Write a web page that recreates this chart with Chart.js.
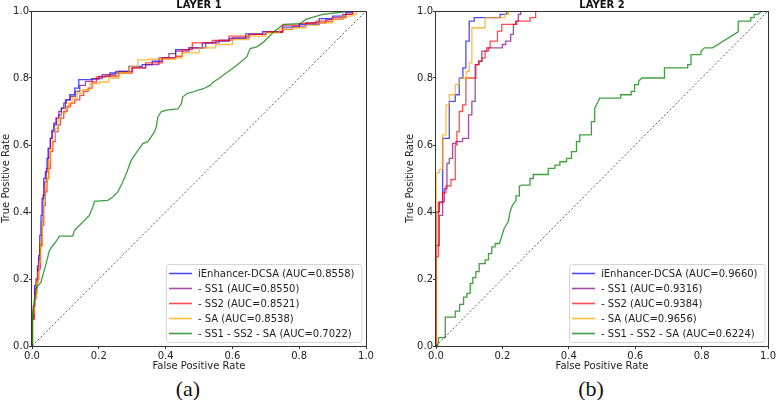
<!DOCTYPE html>
<html>
<head>
<meta charset="utf-8">
<script src="https://cdn.jsdelivr.net/npm/chart.js@4.4.1/dist/chart.umd.min.js"></script>
<style>
  body { margin: 0; background: #fff; }
  #page { position: relative; width: 777px; height: 400px; overflow: hidden; background: #fff; }
  .box { position: absolute; top: 0; height: 372px; }
  .cap { position: absolute; top: 377px; width: 50px; text-align: center; font-family: "Liberation Serif", "Times New Roman", serif; font-size: 22px; line-height: 24px; color: #111; }
</style>
</head>
<body>
<div id="page">
  <div class="box" style="left:0;width:388px"><canvas id="layer1"></canvas></div>
  <div class="box" style="left:404px;width:373px"><canvas id="layer2"></canvas></div>
  <div class="cap" style="left:163px">(a)</div>
  <div class="cap" style="left:566px">(b)</div>
</div>
<script>
// === DATI ===
const TICKS = [0, 0.2, 0.4, 0.6, 0.8, 1.0];
const LAYER1_LABELS = ["iEnhancer-DCSA (AUC=0.8558)", "- SS1 (AUC=0.8550)", "- SS2 (AUC=0.8521)", "- SA (AUC=0.8538)", "- SS1 - SS2 - SA (AUC=0.7022)"];
const LAYER2_LABELS = ["iEnhancer-DCSA (AUC=0.9660)", "- SS1 (AUC=0.9316)", "- SS2 (AUC=0.9384)", "- SA (AUC=0.9656)", "- SS1 - SS2 - SA (AUC=0.6224)"];
const DIAG_FPR = [0, 1];
const DIAG_TPR = [0, 1];

// LAYER 1
const L1_DCSA_FPR = [0, 0, 0.005, 0.008, 0.013, 0.017, 0.02, 0.023, 0.027, 0.03, 0.035, 0.04, 0.045, 0.05, 0.055, 0.06, 0.066, 0.073, 0.08, 0.088, 0.1, 0.113, 0.128, 0.14, 0.178, 0.2, 0.233, 0.26, 0.29, 0.33, 0.36, 0.39, 0.43, 0.47, 0.51, 0.55, 0.59, 0.64, 0.69, 0.75, 0.8, 0.86, 0.9, 0.94, 0.96, 1];
const L1_DCSA_TPR = [0, 0.08, 0.12, 0.18, 0.19, 0.23, 0.27, 0.33, 0.39, 0.44, 0.5, 0.52, 0.56, 0.59, 0.62, 0.64, 0.66, 0.68, 0.69, 0.71, 0.735, 0.75, 0.77, 0.795, 0.797, 0.805, 0.815, 0.82, 0.835, 0.84, 0.85, 0.86, 0.885, 0.89, 0.905, 0.91, 0.918, 0.932, 0.938, 0.952, 0.96, 0.977, 0.985, 0.995, 1.0, 1.0];
const L1_SS1_FPR = [0, 0, 0.004, 0.008, 0.012, 0.016, 0.02, 0.024, 0.028, 0.033, 0.038, 0.043, 0.048, 0.055, 0.06, 0.065, 0.072, 0.08, 0.088, 0.095, 0.103, 0.115, 0.13, 0.143, 0.16, 0.18, 0.21, 0.25, 0.3, 0.34, 0.38, 0.41, 0.43, 0.47, 0.52, 0.56, 0.6, 0.65, 0.7, 0.75, 0.78, 0.82, 0.88, 0.93, 0.96, 1];
const L1_SS1_TPR = [0, 0.1, 0.12, 0.17, 0.2, 0.24, 0.26, 0.3, 0.37, 0.45, 0.49, 0.53, 0.59, 0.62, 0.645, 0.665, 0.68, 0.7, 0.71, 0.725, 0.735, 0.745, 0.76, 0.778, 0.79, 0.798, 0.81, 0.82, 0.83, 0.84, 0.86, 0.873, 0.88, 0.89, 0.905, 0.913, 0.92, 0.93, 0.936, 0.945, 0.955, 0.965, 0.975, 0.99, 1.0, 1.0];
const L1_SS2_FPR = [0, 0, 0.007, 0.007, 0.012, 0.015, 0.02, 0.025, 0.03, 0.035, 0.04, 0.045, 0.05, 0.055, 0.062, 0.07, 0.078, 0.085, 0.095, 0.105, 0.115, 0.128, 0.143, 0.155, 0.168, 0.18, 0.193, 0.22, 0.26, 0.3, 0.34, 0.39, 0.43, 0.45, 0.48, 0.54, 0.59, 0.65, 0.7, 0.75, 0.8, 0.85, 0.9, 0.94, 0.96, 1];
const L1_SS2_TPR = [0, 0.08, 0.08, 0.14, 0.16, 0.2, 0.23, 0.3, 0.36, 0.42, 0.46, 0.5, 0.53, 0.58, 0.61, 0.64, 0.66, 0.68, 0.7, 0.715, 0.725, 0.735, 0.748, 0.76, 0.77, 0.788, 0.803, 0.806, 0.815, 0.83, 0.845, 0.86, 0.865, 0.885, 0.905, 0.912, 0.925, 0.93, 0.938, 0.958, 0.963, 0.97, 0.98, 0.99, 1.0, 1.0];
const L1_SA_FPR = [0, 0, 0.006, 0.01, 0.014, 0.018, 0.022, 0.026, 0.03, 0.035, 0.04, 0.045, 0.05, 0.056, 0.063, 0.07, 0.078, 0.088, 0.1, 0.11, 0.12, 0.135, 0.15, 0.173, 0.203, 0.23, 0.26, 0.29, 0.317, 0.35, 0.43, 0.45, 0.5, 0.55, 0.6, 0.65, 0.7, 0.74, 0.78, 0.82, 0.86, 0.9, 0.93, 0.96, 0.97, 1];
const L1_SA_TPR = [0, 0.1, 0.13, 0.15, 0.19, 0.22, 0.25, 0.31, 0.37, 0.43, 0.47, 0.5, 0.55, 0.59, 0.614, 0.65, 0.68, 0.695, 0.71, 0.725, 0.74, 0.755, 0.765, 0.783, 0.788, 0.8, 0.815, 0.835, 0.854, 0.856, 0.86, 0.875, 0.89, 0.9, 0.915, 0.925, 0.935, 0.945, 0.95, 0.958, 0.965, 0.975, 0.985, 0.99, 1.0, 1.0];
const L1_NONE_FPR = [0, 0.002, 0.002, 0.007, 0.012, 0.017, 0.027, 0.032, 0.042, 0.047, 0.052, 0.062, 0.067, 0.077, 0.082, 0.122, 0.127, 0.137, 0.147, 0.157, 0.167, 0.172, 0.182, 0.187, 0.227, 0.242, 0.257, 0.272, 0.282, 0.297, 0.317, 0.332, 0.347, 0.367, 0.372, 0.377, 0.387, 0.407, 0.437, 0.447, 0.451, 0.463, 0.513, 0.533, 0.543, 0.558, 0.593, 0.613, 0.643, 0.653, 0.673, 0.693, 0.723, 0.753, 0.803, 0.82, 0.87, 0.93, 0.95, 1];
const L1_NONE_TPR = [0, 0, 0.1, 0.13, 0.17, 0.18, 0.19, 0.21, 0.245, 0.265, 0.285, 0.3, 0.305, 0.32, 0.328, 0.328, 0.345, 0.355, 0.365, 0.375, 0.385, 0.39, 0.415, 0.432, 0.435, 0.445, 0.46, 0.49, 0.514, 0.554, 0.584, 0.604, 0.61, 0.64, 0.654, 0.684, 0.7, 0.705, 0.708, 0.723, 0.743, 0.753, 0.768, 0.778, 0.788, 0.798, 0.823, 0.838, 0.863, 0.888, 0.893, 0.907, 0.937, 0.96, 0.962, 0.975, 0.99, 0.997, 1.0, 1.0];

// LAYER 2
const L2_DCSA_FPR = [0, 0, 0.01, 0.01, 0.02, 0.02, 0.04, 0.04, 0.058, 0.058, 0.07, 0.07, 0.081, 0.081, 0.09, 0.09, 0.1, 0.1, 0.115, 0.115, 0.193, 0.193, 0.213, 0.213, 1];
const L2_DCSA_TPR = [0, 0.40, 0.40, 0.43, 0.43, 0.62, 0.62, 0.73, 0.73, 0.75, 0.75, 0.80, 0.80, 0.83, 0.83, 0.91, 0.91, 0.97, 0.97, 0.98, 0.98, 0.99, 0.99, 1.0, 1.0];
const L2_SS1_FPR = [0, 0, 0.01, 0.01, 0.02, 0.02, 0.025, 0.025, 0.033, 0.033, 0.04, 0.04, 0.05, 0.05, 0.06, 0.06, 0.08, 0.08, 0.098, 0.098, 0.108, 0.108, 0.118, 0.118, 0.128, 0.128, 0.138, 0.138, 0.153, 0.153, 0.2, 0.2, 0.21, 0.21, 0.225, 0.225, 0.233, 0.233, 0.24, 0.24, 0.248, 0.248, 0.255, 0.255, 1];
const L2_SS1_TPR = [0, 0.30, 0.30, 0.39, 0.39, 0.43, 0.43, 0.47, 0.47, 0.545, 0.545, 0.56, 0.56, 0.605, 0.605, 0.61, 0.61, 0.62, 0.62, 0.69, 0.69, 0.73, 0.73, 0.84, 0.84, 0.85, 0.85, 0.88, 0.88, 0.89, 0.89, 0.9, 0.9, 0.91, 0.91, 0.93, 0.93, 0.96, 0.96, 0.97, 0.97, 0.99, 0.99, 1.0, 1.0];
const L2_SS2_FPR = [0, 0, 0.007, 0.007, 0.02, 0.02, 0.03, 0.03, 0.045, 0.045, 0.058, 0.058, 0.063, 0.063, 0.07, 0.07, 0.08, 0.08, 0.09, 0.09, 0.12, 0.12, 0.13, 0.13, 0.138, 0.138, 0.148, 0.148, 0.158, 0.158, 0.163, 0.163, 0.185, 0.185, 0.198, 0.198, 0.243, 0.243, 0.283, 0.283, 0.3, 0.3, 1];
const L2_SS2_TPR = [0, 0.267, 0.267, 0.428, 0.428, 0.458, 0.458, 0.478, 0.478, 0.497, 0.497, 0.60, 0.60, 0.64, 0.64, 0.70, 0.70, 0.72, 0.72, 0.80, 0.80, 0.84, 0.84, 0.85, 0.85, 0.86, 0.86, 0.88, 0.88, 0.89, 0.89, 0.91, 0.91, 0.94, 0.94, 0.96, 0.96, 0.97, 0.97, 0.98, 0.98, 1.0, 1.0];
const L2_SA_FPR = [0, 0, 0.01, 0.01, 0.02, 0.02, 0.03, 0.03, 0.04, 0.04, 0.058, 0.058, 0.071, 0.071, 0.091, 0.091, 0.1, 0.1, 0.108, 0.108, 0.148, 0.148, 0.208, 0.208, 0.218, 0.218, 1];
const L2_SA_TPR = [0, 0.517, 0.517, 0.527, 0.527, 0.63, 0.63, 0.72, 0.72, 0.75, 0.75, 0.78, 0.78, 0.80, 0.80, 0.82, 0.82, 0.845, 0.845, 0.95, 0.95, 0.98, 0.98, 0.99, 0.99, 1.0, 1.0];
const L2_NONE_FPR = [0, 0.005, 0.008, 0.028, 0.028, 0.058, 0.058, 0.071, 0.071, 0.083, 0.083, 0.093, 0.093, 0.103, 0.103, 0.111, 0.111, 0.12, 0.12, 0.13, 0.13, 0.148, 0.148, 0.158, 0.158, 0.168, 0.168, 0.178, 0.178, 0.191, 0.205, 0.218, 0.223, 0.23, 0.241, 0.241, 0.251, 0.251, 0.258, 0.283, 0.283, 0.293, 0.293, 0.338, 0.338, 0.358, 0.358, 0.373, 0.373, 0.393, 0.393, 0.408, 0.408, 0.423, 0.423, 0.433, 0.433, 0.468, 0.468, 0.478, 0.478, 0.488, 0.493, 0.556, 0.556, 0.588, 0.588, 0.598, 0.598, 0.61, 0.61, 0.62, 0.688, 0.688, 0.758, 0.758, 0.768, 0.768, 0.798, 0.798, 0.808, 0.833, 0.91, 0.91, 0.948, 0.948, 0.958, 0.958, 0.97, 0.975, 0.983, 1];
const L2_NONE_TPR = [0, 0, 0.025, 0.025, 0.086, 0.086, 0.104, 0.104, 0.124, 0.124, 0.146, 0.146, 0.157, 0.157, 0.187, 0.187, 0.204, 0.204, 0.222, 0.222, 0.246, 0.246, 0.257, 0.257, 0.276, 0.276, 0.296, 0.296, 0.306, 0.306, 0.35, 0.372, 0.40, 0.42, 0.435, 0.448, 0.448, 0.477, 0.48, 0.48, 0.50, 0.50, 0.512, 0.512, 0.53, 0.53, 0.54, 0.54, 0.55, 0.55, 0.56, 0.56, 0.58, 0.58, 0.61, 0.61, 0.63, 0.63, 0.67, 0.67, 0.71, 0.73, 0.74, 0.74, 0.75, 0.75, 0.76, 0.76, 0.78, 0.78, 0.79, 0.80, 0.80, 0.83, 0.83, 0.84, 0.84, 0.87, 0.87, 0.88, 0.89, 0.89, 0.938, 0.97, 0.97, 0.98, 0.98, 0.99, 0.99, 0.995, 1.0, 1.0];

// === STILE ===
const LINE_COLORS = ["rgba(0,0,255,0.7)", "rgba(128,0,128,0.7)", "rgba(255,0,0,0.7)", "rgba(255,165,0,0.75)", "rgba(0,128,0,0.75)"];
const FONT = "'DejaVu Sans', sans-serif";

function toPoints(fpr, tpr) {
    return fpr.map((x, i) => ({ x: x, y: tpr[i] }));
}

function buildDatasets(curves, labels, stepped) {
    const sets = curves.map((c, i) => ({
        label: labels[i],
        data: toPoints(c[0], c[1]),
        borderColor: LINE_COLORS[i],
        borderWidth: 1.3,
        pointRadius: 0,
        showLine: true,
        fill: false,
        stepped: stepped[i],
        order: curves.length - i
    }));
    // diagonale tratteggiata
    sets.push({
        label: "",
        data: toPoints(DIAG_FPR, DIAG_TPR),
        borderColor: "rgba(0,0,0,0.8)",
        borderWidth: 0.8,
        borderDash: [2, 2],
        pointRadius: 0,
        showLine: true,
        order: 0
    });
    return sets;
}

// === CORNICE, TITOLO E LEGENDA ===
const framePlugin = {
    id: "frame",
    afterDraw(chart, args, opts) {
        const ctx = chart.ctx;
        const a = chart.chartArea;
        ctx.save();
        ctx.strokeStyle = "#333";
        ctx.lineWidth = 1;
        ctx.strokeRect(Math.round(a.left) - 0.5, Math.round(a.top) + 0.5, Math.round(a.right - a.left) + 1, Math.round(a.bottom - a.top));

        ctx.fillStyle = "#111";
        ctx.font = "bold 10px " + FONT;
        ctx.textAlign = "center";
        ctx.textBaseline = "alphabetic";
        ctx.fillText(opts.title, (a.left + a.right) / 2, 8);

        const items = chart.data.datasets.filter(d => d.label);
        ctx.font = "10px " + FONT;
        const textW = Math.max(...items.map(d => ctx.measureText(d.label).width));
        const rowH = 15;
        const boxW = 3 + 23 + 6 + textW + 7;
        const boxH = rowH * (items.length - 1) + 18;
        const x0 = Math.round(a.right - 4 - boxW);
        const y0 = Math.round(a.bottom - 4 - boxH);
        ctx.beginPath();
        ctx.roundRect(x0 + 0.5, y0 + 0.5, boxW, boxH, 3);
        ctx.fillStyle = "rgba(255,255,255,0.85)";
        ctx.fill();
        ctx.strokeStyle = "#d4d4d4";
        ctx.stroke();
        items.forEach((d, i) => {
            const cy = y0 + 9.5 + i * rowH;
            ctx.strokeStyle = d.borderColor;
            ctx.lineWidth = 1.6;
            ctx.beginPath();
            ctx.moveTo(x0 + 3, cy);
            ctx.lineTo(x0 + 26, cy);
            ctx.stroke();
            ctx.fillStyle = "#222";
            ctx.textAlign = "left";
            ctx.textBaseline = "middle";
            ctx.fillText(d.label, x0 + 32, cy + 0.5);
        });
        ctx.restore();
    }
};

function axisOptions(title, isX) {
    return {
        type: "linear",
        min: 0,
        max: 1,
        afterBuildTicks: s => { s.ticks = TICKS.map(v => ({ value: v })); },
        afterFit: s => { if (isX) s.height = 26; else s.width = 32; },
        grid: { drawOnChartArea: false, drawTicks: true, tickLength: 3, color: "#333" },
        border: { display: false },
        ticks: {
            padding: isX ? 1 : 0,
            color: "#222",
            font: { family: FONT, size: 10 },
            maxRotation: 0,
            autoSkip: false,
            callback: v => v.toFixed(1)
        },
        title: { display: true, text: title, color: "#222", font: { family: FONT, size: 10 }, padding: 0 }
    };
}

function makeChart(canvasId, datasets, title, padRight) {
    return new Chart(document.getElementById(canvasId), {
        type: "scatter",
        data: { datasets: datasets },
        options: {
            responsive: true,
            maintainAspectRatio: false,
            animation: false,
            layout: { padding: { top: 11, right: padRight, bottom: 0, left: 0 } },
            plugins: {
                legend: { display: false },
                tooltip: { enabled: false },
                frame: { title: title }
            },
            scales: {
                x: axisOptions("False Positive Rate", true),
                y: axisOptions("True Positive Rate", false)
            }
        },
        plugins: [framePlugin]
    });
}

// === AVVIO ===
const layer1Curves = [[L1_DCSA_FPR, L1_DCSA_TPR], [L1_SS1_FPR, L1_SS1_TPR], [L1_SS2_FPR, L1_SS2_TPR], [L1_SA_FPR, L1_SA_TPR], [L1_NONE_FPR, L1_NONE_TPR]];
const layer2Curves = [[L2_DCSA_FPR, L2_DCSA_TPR], [L2_SS1_FPR, L2_SS1_TPR], [L2_SS2_FPR, L2_SS2_TPR], [L2_SA_FPR, L2_SA_TPR], [L2_NONE_FPR, L2_NONE_TPR]];

makeChart("layer1", buildDatasets(layer1Curves, LAYER1_LABELS, ["before", "before", "before", "before", false]), "LAYER 1", 22);
makeChart("layer2", buildDatasets(layer2Curves, LAYER2_LABELS, [false, false, false, false, false]), "LAYER 2", 8);
</script>
</body>
</html>
